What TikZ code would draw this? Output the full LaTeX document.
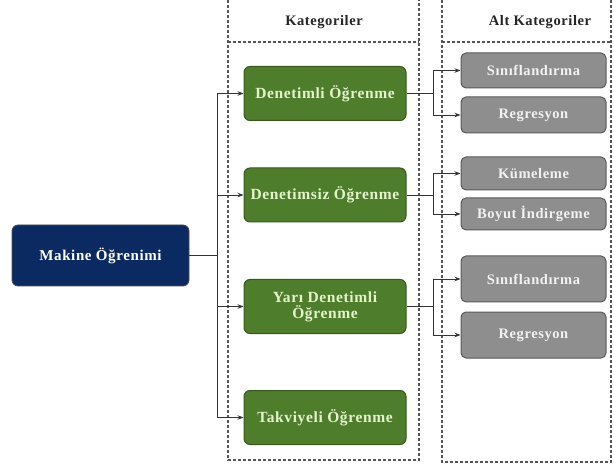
\documentclass[tikz,border=0pt]{standalone}
\usepackage{fontspec}
\setmainfont{Liberation Serif}
\newfontfamily\wideserif[LetterSpace=4]{Liberation Serif}
\usetikzlibrary{arrows.meta,calc}
\definecolor{navy}{HTML}{0B2A62}
\definecolor{gfill}{HTML}{4E7D2C}
\definecolor{gdraw}{HTML}{355A1C}
\definecolor{gtext}{HTML}{E4F3CC}
\definecolor{afill}{HTML}{8E8E8E}
\definecolor{adraw}{HTML}{5A5A5A}
\definecolor{atext}{HTML}{F2F2F2}
\definecolor{dash}{HTML}{555555}
\begin{document}
\begin{tikzpicture}[x=1pt,y=-1pt,
  colbox/.style={draw=dash,line width=1.1pt,dash pattern=on 3pt off 2pt},
  mlbox/.style={draw=black!70,fill=navy,rounded corners=6pt,line width=0.8pt,text=white,font=\wideserif\bfseries\fontsize{15}{16}\selectfont,minimum width=177pt,minimum height=61pt,inner sep=0pt},
  catbox/.style={draw=gdraw,fill=gfill,rounded corners=6pt,line width=1pt,text=gtext,font=\wideserif\bfseries\fontsize{15.5}{16}\selectfont,minimum width=162pt,minimum height=54pt,inner sep=0pt,align=center},
  subbox/.style={draw=adraw,fill=afill,rounded corners=5pt,line width=1pt,text=atext,font=\wideserif\bfseries\fontsize{14.5}{16}\selectfont,minimum width=145pt,inner sep=0pt,align=center},
  hdr/.style={font=\wideserif\bfseries\fontsize{14.5}{16}\selectfont,text=black!85},
  conn/.style={draw=black!80,line width=0.9pt},
  arr/.style={conn,-{Stealth[length=6pt,width=4.5pt]}}]
\useasboundingbox (0,0) rectangle (614,468);
\fill[white] (0,0) rectangle (614,468);
% columns
\draw[colbox] (228,-5) rectangle (419,460);
\draw[colbox] (228,42) -- (419,42);
\draw[colbox] (442,-5) rectangle (611,462);
\draw[colbox] (442,42) -- (611,42);
\node[hdr] (h1) at (324,22) {Kategoriler};
\node[hdr] (h2) at (540,22) {Alt Kategoriler};
% main
\node[mlbox] (mk) at (100.5,255.5) {Makine Öğrenimi};
% categories
\node[catbox] (d1) at (325,93.5) {Denetimli Öğrenme};
\node[catbox] (d2) at (325,195) {Denetimsiz Öğrenme};
\node[catbox] (d3) at (325,306.5) {Yarı Denetimli\\Öğrenme};
\node[catbox] (d4) at (325,417.5) {Takviyeli Öğrenme};
% subcategories
\node[subbox,minimum height=35pt] (s1) at (533.5,70.5) {Sınıflandırma};
\node[subbox,minimum height=36pt] (r1) at (533.5,115) {Regresyon};
\node[subbox,minimum height=33pt] (k2) at (533.5,173.5) {Kümeleme};
\node[subbox,minimum height=32pt] (b2) at (533.5,214) {Boyut İndirgeme};
\node[subbox,minimum height=46pt] (s3) at (533.5,279) {Sınıflandırma};
\node[subbox,minimum height=46pt] (r3) at (533.5,335) {Regresyon};
% trunk
\coordinate (tx) at (217,0);
\coordinate (bx) at (433,0);
\draw[conn] (mk.east) -- (tx |- mk.east);
\draw[conn] (tx |- d1) -- (tx |- d4);
\foreach \n in {d1,d2,d3,d4}{\draw[arr] (tx |- \n) -- (\n.west);}
% branches
\foreach \g/\a/\b in {d1/s1/r1,d2/k2/b2,d3/s3/r3}{
  \draw[conn] (\g.east) -- (bx |- \g);
  \draw[conn] (bx |- \a) -- (bx |- \b);
  \draw[arr] (bx |- \a) -- (\a.west);
  \draw[arr] (bx |- \b) -- (\b.west);
}
\end{tikzpicture}
\end{document}
